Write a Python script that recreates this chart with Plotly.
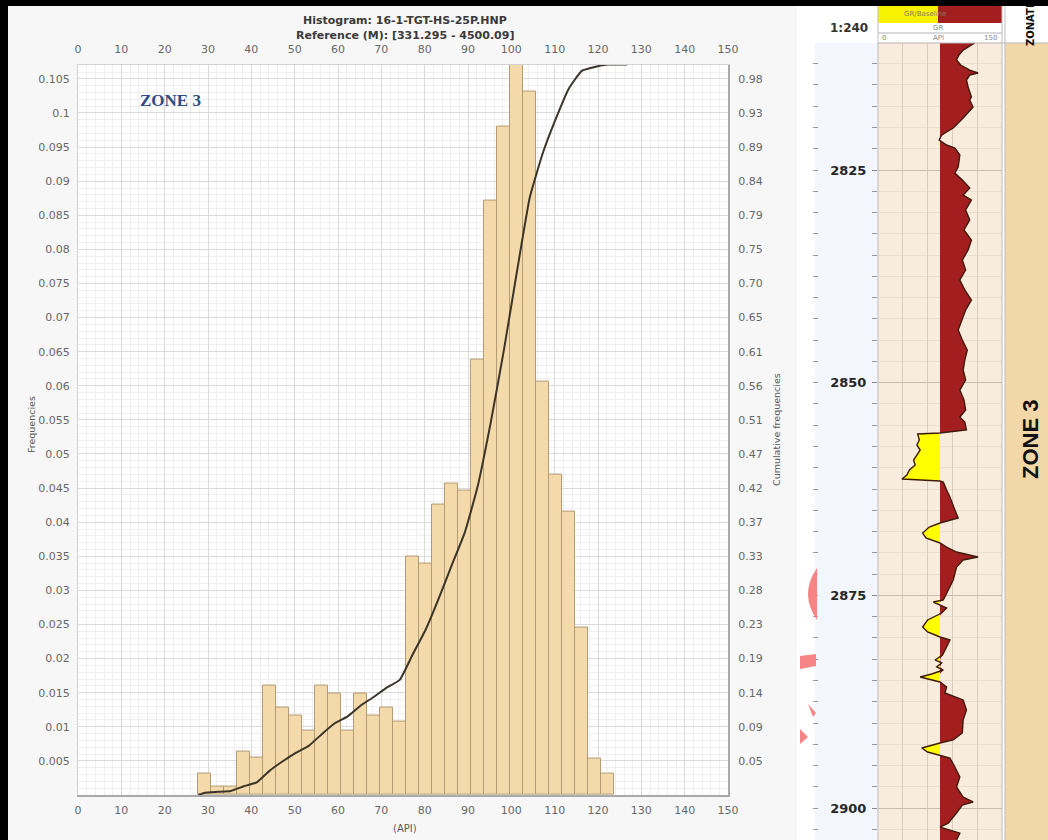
import numpy as np
import plotly.graph_objects as go

W, H = 1048, 840

# ---- histogram of GR (API), zone 3 ----
bin_start = 27.75
bin_width = 3.0
freq = [0.0032, 0.0012, 0.0012, 0.0063, 0.0055, 0.0160, 0.0128, 0.0117,
        0.0095, 0.0160, 0.0149, 0.0095, 0.0149, 0.0117, 0.0128, 0.0107,
        0.0350, 0.0340, 0.0426, 0.0456, 0.0446, 0.0639, 0.0872, 0.0980,
        0.1071, 0.1032, 0.0606, 0.0470, 0.0415, 0.0245, 0.0054, 0.0032]

x_ticks = [0, 10, 20, 30, 40, 50, 60, 70, 80, 90, 100, 110, 120, 130, 140, 150]
freq_ticks = [0.005, 0.010, 0.015, 0.020, 0.025, 0.030, 0.035, 0.040, 0.045,
              0.050, 0.055, 0.060, 0.065, 0.070, 0.075, 0.080, 0.085, 0.090,
              0.095, 0.100, 0.105]
freq_tick_text = ["0.005", "0.01", "0.015", "0.02", "0.025", "0.03", "0.035",
                  "0.04", "0.045", "0.05", "0.055", "0.06", "0.065", "0.07",
                  "0.075", "0.08", "0.085", "0.09", "0.095", "0.1", "0.105"]
cum_tick_text = ["0.05", "0.09", "0.14", "0.19", "0.23", "0.28", "0.33",
                 "0.37", "0.42", "0.47", "0.51", "0.56", "0.61", "0.65",
                 "0.70", "0.75", "0.79", "0.84", "0.89", "0.93", "0.98"]

# ---- GR log, zone 3 interval ----
gr_baseline = 75.0
depth_top, depth_bottom = 2810.07, 2903.75
depth_labels = [2825, 2850, 2875, 2900]
gr_depth = [2810.07, 2810.90, 2811.48, 2812.07, 2812.66, 2813.25, 2813.60, 2813.83,
            2814.42, 2815.24, 2816.42, 2816.77, 2817.60, 2818.30, 2818.89, 2819.48,
            2820.06, 2820.53, 2820.89, 2821.47, 2822.06, 2822.41, 2823.24, 2824.65,
            2825.35, 2826.18, 2827.12, 2827.94, 2828.53, 2829.70, 2830.88, 2832.05,
            2833.23, 2834.40, 2835.58, 2836.75, 2837.93, 2839.10, 2840.28, 2841.46,
            2842.63, 2843.81, 2844.98, 2846.16, 2847.33, 2848.51, 2849.68, 2850.86,
            2852.03, 2853.21, 2854.03, 2854.62, 2855.56, 2855.91, 2856.03, 2856.73,
            2857.32, 2857.91, 2858.50, 2859.09, 2859.67, 2860.26, 2860.85, 2861.32,
            2861.55, 2861.67, 2862.61, 2863.43, 2864.96, 2865.90, 2866.49, 2866.96,
            2867.67, 2868.25, 2868.84, 2869.31, 2869.90, 2870.49, 2870.84, 2871.66,
            2873.19, 2874.01, 2874.72, 2875.54, 2875.78, 2876.13, 2876.48, 2877.07,
            2877.42, 2877.89, 2878.71, 2879.30, 2879.89, 2880.24, 2881.06, 2882.00,
            2882.59, 2882.94, 2883.41, 2883.77, 2884.24, 2884.59, 2885.18, 2885.77,
            2886.47, 2887.29, 2888.47, 2889.64, 2891.17, 2891.99, 2892.35, 2892.70,
            2892.94, 2893.41, 2893.76, 2894.11, 2895.17, 2896.34, 2897.52, 2898.70,
            2899.28, 2899.64, 2900.58, 2901.76, 2902.23, 2902.94, 2903.75]
gr_api = [117, 103, 98, 95, 100, 111, 121, 111,
          107, 109, 113, 111, 115, 109, 103, 97,
          91, 83, 77, 74, 83, 93, 99, 97,
          93, 102, 111, 103, 113, 106, 111, 104,
          113, 109, 102, 106, 99, 105, 113, 106,
          102, 97, 102, 108, 105, 103, 106, 99,
          104, 106, 99, 105, 107, 75, 48, 50,
          47, 51, 47, 43, 45, 38, 35, 29,
          75, 79, 83, 87, 93, 97, 75, 62,
          54, 58, 75, 83, 95, 121, 103, 95,
          91, 87, 83, 79, 67, 75, 83, 77,
          70, 60, 54, 60, 75, 87, 83, 78,
          69, 77, 71, 79, 65, 51, 75, 83,
          81, 103, 107, 103, 102, 91, 75, 60,
          53, 60, 75, 87, 93, 99, 95, 103,
          115, 102, 95, 85, 75, 99, 95]


def px(x):
    return x / W


def py(y):
    return 1 - y / H


nbins = len(freq)
centers = bin_start + bin_width * (np.arange(nbins) + 0.5)
fmax = max(freq)
cum = np.cumsum(freq) / np.sum(freq)
# curve runs from the first bin edge, through the bin centres, and levels off
cum_x = [bin_start] + list(centers) + [bin_start + (nbins + 1) * bin_width]
cum_y = [0.0] + list(cum) + [1.0]
cum_tickvals = [v / fmax for v in freq_ticks]

gr = np.array(gr_api, dtype=float)
gr_shale = np.maximum(gr, gr_baseline)
gr_sand = np.minimum(gr, gr_baseline)
base = [gr_baseline] * len(gr_depth)

fig = go.Figure()

# histogram bars
fig.add_trace(go.Bar(
    x=centers, y=freq, width=bin_width,
    marker=dict(color="#f4daab", line=dict(color="#b39b74", width=1)),
    xaxis="x", yaxis="y", hoverinfo="skip"))

# cumulative frequency curve
fig.add_trace(go.Scatter(
    x=cum_x, y=cum_y, mode="lines",
    line=dict(color="#3b3428", width=2, shape="spline", smoothing=0.4),
    xaxis="x2", yaxis="y2", hoverinfo="skip"))

# GR log: shale fill (red), sand fill (yellow), then the curve itself
fig.add_trace(go.Scatter(x=base, y=gr_depth, mode="lines", line=dict(width=0),
                         xaxis="x3", yaxis="y3", hoverinfo="skip"))
fig.add_trace(go.Scatter(x=gr_shale, y=gr_depth, mode="lines", line=dict(width=0),
                         fill="tonextx", fillcolor="#a31e1f",
                         xaxis="x3", yaxis="y3", hoverinfo="skip"))
fig.add_trace(go.Scatter(x=base, y=gr_depth, mode="lines", line=dict(width=0),
                         xaxis="x3", yaxis="y3", hoverinfo="skip"))
fig.add_trace(go.Scatter(x=gr_sand, y=gr_depth, mode="lines", line=dict(width=0),
                         fill="tonextx", fillcolor="#ffff00",
                         xaxis="x3", yaxis="y3", hoverinfo="skip"))
fig.add_trace(go.Scatter(x=gr, y=gr_depth, mode="lines",
                         line=dict(color="#3e1a0c", width=1.4),
                         xaxis="x3", yaxis="y3", hoverinfo="skip"))
# carrier for the left-hand depth tick column
fig.add_trace(go.Scatter(x=[None], y=[None], xaxis="x3", yaxis="y4",
                         hoverinfo="skip"))

tick_font = dict(family="DejaVu Sans", size=11, color="#676767")
plot_x = [px(78), px(728)]
plot_y = [py(795), py(795 - fmax / 0.005 * 34.1)]

fig.update_layout(
    width=W, height=H, margin=dict(l=0, r=0, t=0, b=0, autoexpand=False),
    paper_bgcolor="white", plot_bgcolor="rgba(0,0,0,0)",
    showlegend=False, bargap=0,
    xaxis=dict(domain=plot_x, range=[0, 150], anchor="y", automargin=False,
               tickmode="array", tickvals=x_ticks, ticks="",
               tickfont=tick_font, ticklabelstandoff=4,
               showgrid=True, gridcolor="#dadada", gridwidth=1,
               minor=dict(tick0=0, dtick=2, showgrid=True, gridcolor="#efefef"),
               showline=True, linecolor="#a9a9a9", linewidth=2,
               zeroline=False),
    yaxis=dict(domain=plot_y, range=[0, fmax], anchor="x", automargin=False,
               tickmode="array", tickvals=freq_ticks, ticktext=freq_tick_text,
               ticks="", tickfont=tick_font, ticklabelstandoff=5,
               showgrid=True, gridcolor="#dadada", gridwidth=1,
               minor=dict(tick0=0, dtick=0.001, showgrid=True, gridcolor="#efefef"),
               showline=True, linecolor="#d2d2d2", linewidth=1,
               zeroline=False),
    xaxis2=dict(domain=plot_x, range=[0, 150], overlaying="x", side="top",
                anchor="y2", automargin=False,
                tickmode="array", tickvals=x_ticks, ticks="",
                tickfont=tick_font, ticklabelstandoff=6,
                showgrid=False, showline=True, linecolor="#d2d2d2",
                linewidth=1, zeroline=False),
    yaxis2=dict(domain=plot_y, range=[0, 1], overlaying="y", side="right",
                anchor="x2", automargin=False,
                tickmode="array", tickvals=cum_tickvals,
                ticktext=cum_tick_text, ticks="", tickfont=tick_font,
                ticklabelstandoff=6, showgrid=False, showline=True,
                linecolor="#a9a9a9", linewidth=2, zeroline=False),
    xaxis3=dict(domain=[px(878), px(1002)], range=[0, 150], anchor="y3",
                automargin=False,
                tickmode="linear", tick0=0, dtick=30, showticklabels=False,
                ticks="", showgrid=True, gridcolor="#d9ccba", showline=False,
                zeroline=False),
    yaxis3=dict(domain=[0, py(43)], range=[depth_bottom, depth_top],
                anchor="x3", automargin=False,
                tickmode="array", tickvals=depth_labels,
                ticktext=["<b>%d</b>" % d for d in depth_labels],
                ticks="outside", ticklen=5, tickcolor="#8a8a8a",
                tickfont=dict(family="DejaVu Sans", size=13, color="#262626"),
                ticklabelstandoff=3,
                showgrid=True, gridcolor="#c9bcaa",
                minor=dict(tick0=2810, dtick=2.5, ticks="outside", ticklen=5,
                           tickcolor="#9a9a9a", showgrid=True,
                           gridcolor="#ecdfcd"),
                showline=False, zeroline=False),
    yaxis4=dict(range=[depth_bottom, depth_top], overlaying="y3",
                anchor="free", position=px(818), side="left", automargin=False,
                tickmode="linear", tick0=2810, dtick=2.5, ticks="outside",
                ticklen=5, tickcolor="#9a9a9a", showticklabels=False,
                showgrid=False, showline=False, zeroline=False),
)

shapes = []


def rect(x0, y0, x1, y1, color, layer="below"):
    shapes.append(dict(type="rect", xref="paper", yref="paper",
                       x0=px(x0), x1=px(x1), y0=py(y1), y1=py(y0),
                       fillcolor=color, line=dict(width=0), layer=layer))


def line(x0, y0, x1, y1, color="#a8a8a8", width=1, layer="above"):
    shapes.append(dict(type="line", xref="paper", yref="paper",
                       x0=px(x0), x1=px(x1), y0=py(y0), y1=py(y1),
                       line=dict(color=color, width=width), layer=layer))


# panel backgrounds
rect(8, 6, 797, 840, "#f7f7f7")
shapes.append(dict(type="rect", xref="x domain", yref="y domain",
                   x0=0, x1=1, y0=0, y1=1, fillcolor="white",
                   line=dict(width=0), layer="below"))
rect(815, 43, 878, 840, "#f3f6fc")
shapes.append(dict(type="rect", xref="x3 domain", yref="y3 domain",
                   x0=0, x1=1, y0=0, y1=1, fillcolor="#f8ecdc",
                   line=dict(width=0), layer="below"))
rect(1005, 43, 1048, 840, "#f2d7a9")

# GR track header
rect(878, 6, 938, 23, "#f7f200", layer="above")
rect(938, 6, 1002, 23, "#a31e1f", layer="above")
line(878, 33, 1002, 33, "#b5b5b5")
line(878, 43, 1048, 43, "#b5b5b5")
line(878, 6, 878, 840, "#bdbdbd")
line(1002, 6, 1002, 840, "#bdbdbd")
line(1005, 6, 1005, 840, "#bdbdbd")

# partly cropped red marks at the panel join
shapes.append(dict(type="path", xref="paper", yref="paper",
                   path="M %f,%f Q %f,%f %f,%f Z" % (px(817), py(568), px(799), py(594),
                                                     px(817), py(620)),
                   fillcolor="#f78585", line=dict(width=0), layer="above"))
shapes.append(dict(type="path", xref="paper", yref="paper",
                   path="M %f,%f L %f,%f L %f,%f L %f,%f Z" % (
                       px(800), py(656), px(816), py(654), px(816), py(666),
                       px(800), py(669)),
                   fillcolor="#f78585", line=dict(width=0), layer="above"))
shapes.append(dict(type="path", xref="paper", yref="paper",
                   path="M %f,%f L %f,%f L %f,%f Z" % (
                       px(808), py(704), px(816), py(713), px(813), py(717)),
                   fillcolor="#f78585", line=dict(width=0), layer="above"))
shapes.append(dict(type="path", xref="paper", yref="paper",
                   path="M %f,%f L %f,%f L %f,%f Z" % (
                       px(800), py(729), px(808), py(737), px(800), py(744)),
                   fillcolor="#f78585", line=dict(width=0), layer="above"))

# frame bands
rect(0, 0, 1048, 6, "#000000", layer="above")
rect(0, 0, 8, 840, "#000000", layer="above")

fig.update_layout(shapes=shapes)

annotations = []


def text(x, y, s, size, color="#555555", family="DejaVu Sans", angle=0):
    annotations.append(dict(x=px(x), y=py(y), xref="paper", yref="paper",
                            text=s, showarrow=False, textangle=angle,
                            xanchor="center", yanchor="middle",
                            font=dict(family=family, size=size, color=color)))


text(405, 20, "<b>Histogram: 16-1-TGT-HS-25P.HNP</b>", 11, "#3a3a3a")
text(405, 36, "<b>Reference (M): [331.295 - 4500.09]</b>", 11, "#3a3a3a")
text(170, 100, "<b>ZONE 3</b>", 17, "#2e4d85", "Liberation Serif")
text(31, 425, "Frequencies", 9.5, "#5a5a5a", angle=-90)
text(777, 430, "Cumulative frequencies", 9.5, "#5a5a5a", angle=-90)
text(405, 828, "(API)", 10, "#5a5a5a")

text(849, 28, "<b>1:240</b>", 12, "#333333")
text(925, 14, "GR/Baseline", 7, "#8a7a60")
text(938, 28, "GR", 7, "#8a8a8a")
text(884, 38, "0", 7, "#8a8a8a")
text(938, 38, "API", 7, "#8a8a8a")
text(990, 38, "150", 7, "#8a8a8a")
text(1030, 25, "<b>ZONATI</b>", 10, "#111111", angle=-90)
text(1030, 440, "<b>ZONE 3</b>", 22, "#111111",
     "Liberation Sans Narrow, Liberation Sans", angle=-90)

fig.update_layout(annotations=annotations)

fig.write_html("out.html")
